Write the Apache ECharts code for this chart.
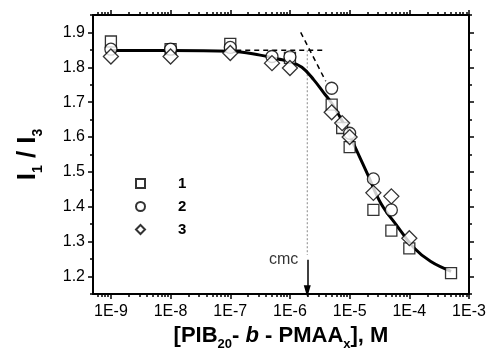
<!DOCTYPE html>
<html>
<head>
<meta charset="utf-8">
<script src="https://cdn.jsdelivr.net/npm/echarts@6/dist/echarts.min.js"></script>
<style>
html, body { margin: 0; padding: 0; background: #fff; }
#chart { width: 490px; height: 352px; }
</style>
</head>
<body>
<div id="chart"></div>
<script>
// concentrations (M) and I1/I3
var conc1  = [1e-9, 1e-8, 1e-7, 1e-6, 5e-6, 7.5e-6, 1e-5, 2.5e-5, 5e-5, 1e-4, 5e-4];
var ratio1 = [1.874, 1.852, 1.867, 1.827, 1.693, 1.626, 1.571, 1.391, 1.332, 1.281, 1.210];
var conc2  = [1e-9, 1e-8, 1e-7, 5e-7, 1e-6, 5e-6, 1e-5, 2.5e-5, 5e-5];
var ratio2 = [1.852, 1.852, 1.857, 1.831, 1.830, 1.740, 1.611, 1.480, 1.391];
var conc3  = [1e-9, 1e-8, 1e-7, 5e-7, 1e-6, 5e-6, 7.5e-6, 1e-5, 2.5e-5, 5e-5, 1e-4];
var ratio3 = [1.831, 1.831, 1.841, 1.812, 1.798, 1.671, 1.640, 1.600, 1.440, 1.430, 1.310];

// fitted curve, log10(c) vs I1/I3
var fitLog   = [-9, -8, -7, -6.5, -6.2, -6.0, -5.8, -5.6, -5.43, -5.3, -5.12, -5.0, -4.87, -4.7, -4.48, -4.2, -3.92, -3.64, -3.3];
var fitRatio = [1.848, 1.848, 1.846, 1.835, 1.824, 1.816, 1.800, 1.764, 1.726, 1.697, 1.645, 1.605, 1.557, 1.494, 1.411, 1.344, 1.282, 1.243, 1.215];

// construction lines for the cmc
var plateauLog = [-6.9, -5.44];
var plateauRatio = [1.849, 1.849];
var slopeLog = [-5.82, -5.40];
var slopeRatio = [1.90, 1.76];
var cmcLog = -5.71;
var cmcDotRatio = [1.849, 1.262];
var cmcArrowRatio = [1.248, 1.158];

var xDecades = [-9, -8, -7, -6, -5, -4, -3];
var yTicks = [1.2, 1.3, 1.4, 1.5, 1.6, 1.7, 1.8, 1.9];
var yMinor = [1.15, 1.25, 1.35, 1.45, 1.55, 1.65, 1.75, 1.85, 1.95];

var xMin = -9.3, xMax = -3, yMin = 1.15, yMax = 1.95;
var FONT = '"Liberation Sans", Arial, sans-serif';

var xMinor = [];
for (var n = -10; n <= -4; n++) {
	for (var k = 2; k <= 9; k++) {
		var v = Math.log10(k) + n;
		if (v > xMin && v < xMax) xMinor.push(v);
	}
}

function pairs(xs, ys, logIt) {
	return xs.map(function (x, i) { return [logIt ? Math.log10(x) : x, ys[i]]; });
}

function xAx(pos, ticks, len, withLine, withLabel) {
	var a = {
		type: 'value', position: pos, min: xMin, max: xMax,
		splitLine: { show: false },
		axisLine: { show: withLine, onZero: false, lineStyle: { color: '#000', width: 2 } },
		axisTick: { show: true, customValues: ticks, length: len, lineStyle: { color: '#000', width: 1.5 } },
		axisLabel: { show: false }
	};
	if (withLabel) {
		a.axisLabel = {
			show: true, customValues: xDecades, margin: 10,
			color: '#000', fontSize: 16, fontFamily: FONT,
			formatter: function (v) { return '1E' + Math.round(v); }
		};
		a.name = '{b|[PIB}{s|20}{b|- }{i|b}{b| - PMAA}{s|x}{b|], M}';
		a.nameLocation = 'middle';
		a.nameGap = 24;
		a.nameTextStyle = {
			rich: {
				b: { fontSize: 22, fontWeight: 'bold', fontFamily: FONT, color: '#000', lineHeight: 30 },
				i: { fontSize: 22, fontWeight: 'bold', fontStyle: 'italic', fontFamily: FONT, color: '#000', lineHeight: 30 },
				s: { fontSize: 13, fontWeight: 'bold', fontFamily: FONT, color: '#000', lineHeight: 30, verticalAlign: 'bottom' }
			}
		};
	}
	return a;
}

function yAx(pos, ticks, len, withLine, withLabel) {
	var a = {
		type: 'value', position: pos, min: yMin, max: yMax,
		splitLine: { show: false },
		axisLine: { show: withLine, onZero: false, lineStyle: { color: '#000', width: 2 } },
		axisTick: { show: true, customValues: ticks, length: len, lineStyle: { color: '#000', width: 1.5 } },
		axisLabel: { show: false }
	};
	if (withLabel) {
		a.axisLabel = {
			show: true, customValues: yTicks, margin: 8,
			color: '#000', fontSize: 16, fontFamily: FONT,
			formatter: function (v) { return v.toFixed(1); }
		};
		a.name = '{b|I}{s|1}{b| / I}{s|3}';
		a.nameLocation = 'middle';
		a.nameRotate = 90;
		a.nameGap = 48;
		a.nameTextStyle = {
			rich: {
				b: { fontSize: 26, fontWeight: 'bold', fontFamily: FONT, color: '#000', lineHeight: 34 },
				s: { fontSize: 14, fontWeight: 'bold', fontFamily: FONT, color: '#000', lineHeight: 34, verticalAlign: 'bottom' }
			}
		};
	}
	return a;
}

var chart = echarts.init(document.getElementById('chart'));

var markerStyle = { color: '#fff', borderColor: '#000', borderWidth: 1.3 };

var option = {
	animation: false,
	grid: { left: 93, right: 21, top: 15, bottom: 58, containLabel: false, outerBoundsMode: 'none' },
	xAxis: [
		xAx('bottom', xDecades, 5, true, true),
		xAx('bottom', xMinor, 3, false, false),
		xAx('top', xDecades, 5, true, false),
		xAx('top', xMinor, 3, false, false)
	],
	yAxis: [
		yAx('left', yTicks, 5, true, true),
		yAx('left', yMinor, 3, false, false),
		yAx('right', yTicks, 5, true, false),
		yAx('right', yMinor, 3, false, false)
	],
	legend: {
		data: ['1', '2', '3'],
		orient: 'vertical',
		left: 130, top: 171,
		itemWidth: 9, itemHeight: 9, itemGap: 8,
		itemStyle: { borderWidth: 2 },
		textStyle: { fontSize: 15, fontWeight: 'bold', fontFamily: FONT, color: '#000', padding: [0, 0, 0, 28] }
	},
	series: [
		{
			name: 'fit', type: 'line', data: pairs(fitLog, fitRatio, false),
			smooth: 0.4, showSymbol: false, symbol: 'none', z: 2,
			lineStyle: { color: '#000', width: 3 }
		},
		{
			name: 'plateau', type: 'line', data: pairs(plateauLog, plateauRatio, false),
			symbol: 'none', z: 2, lineStyle: { color: '#000', width: 1.5, type: [5, 4] }
		},
		{
			name: 'slope', type: 'line', data: pairs(slopeLog, slopeRatio, false),
			symbol: 'none', z: 2, lineStyle: { color: '#000', width: 1.5, type: [5, 4] }
		},
		{
			name: 'cmcline', type: 'line', data: pairs([cmcLog, cmcLog], cmcDotRatio, false),
			symbol: 'none', z: 1, lineStyle: { color: '#888', width: 1, type: [2, 2] },
			markLine: {
				silent: true, symbol: ['none', 'triangle'], symbolSize: [7, 12],
				label: { show: false },
				lineStyle: { color: '#000', width: 1.5, type: 'solid' },
				data: [[{ coord: [cmcLog, cmcArrowRatio[0]] }, { coord: [cmcLog, cmcArrowRatio[1]] }]]
			}
		},
		{
			name: 'cmclabel', type: 'scatter', data: [[cmcLog, cmcArrowRatio[0]]],
			symbolSize: 0, silent: true,
			label: { show: true, formatter: 'cmc', position: 'left', distance: 9, fontSize: 16, fontFamily: FONT, color: '#000' }
		},
		{
			name: '1', type: 'scatter', data: pairs(conc1, ratio1, true),
			symbol: 'rect', symbolSize: 11, z: 3, itemStyle: markerStyle
		},
		{
			name: '2', type: 'scatter', data: pairs(conc2, ratio2, true),
			symbol: 'circle', symbolSize: 12, z: 3, itemStyle: markerStyle
		},
		{
			name: '3', type: 'scatter', data: pairs(conc3, ratio3, true),
			symbol: 'diamond', symbolSize: 15, z: 3, itemStyle: markerStyle
		}
	]
};

chart.setOption(option);
</script>
</body>
</html>
